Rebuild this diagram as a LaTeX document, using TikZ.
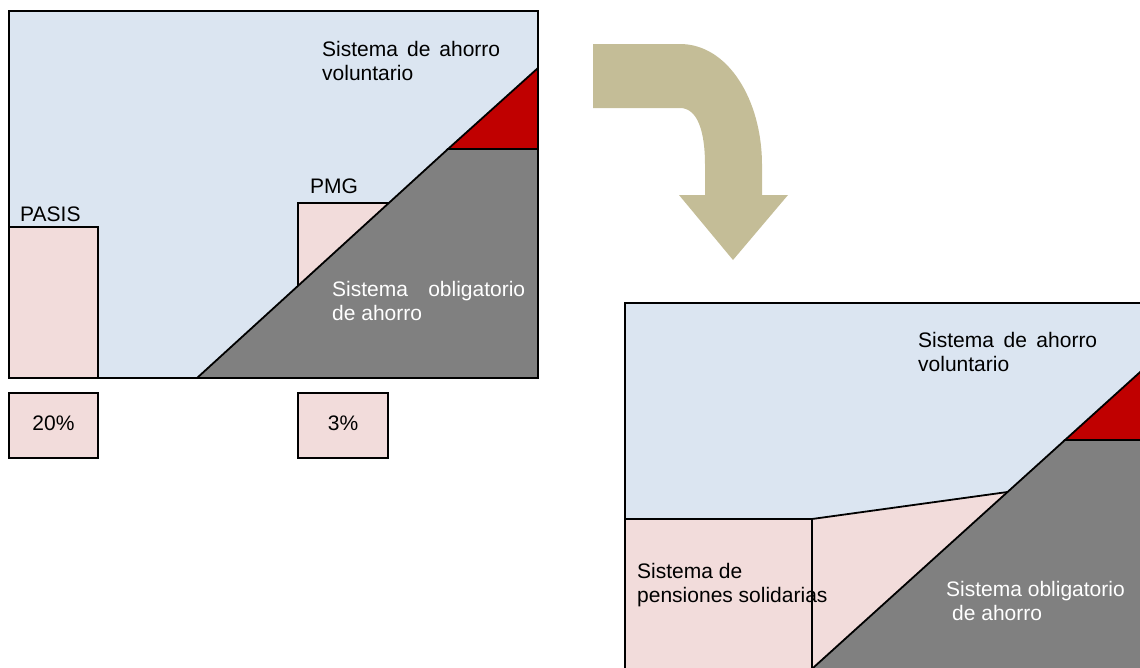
\documentclass[tikz,border=0pt]{standalone}
\usepackage{fontspec}
\setmainfont{Liberation Sans}
\definecolor{bluefill}{HTML}{DBE5F1}
\definecolor{pinkfill}{HTML}{F2DCDB}
\definecolor{grayfill}{HTML}{808080}
\definecolor{redfill}{HTML}{C00000}
\definecolor{tanfill}{HTML}{C4BD97}
\begin{document}
\begin{tikzpicture}[x=1pt,y=-1pt,
  edge/.style={draw=black,line width=1.8pt,line join=miter},
  bluereg/.style={edge,fill=bluefill},
  pinkreg/.style={edge,fill=pinkfill},
  grayreg/.style={edge,fill=grayfill},
  redreg/.style={edge,fill=redfill},
  lbl/.style={anchor=base west,inner sep=0pt,font=\fontsize{21}{24}\selectfont,text=black},
  wlbl/.style={lbl,text=white},
  clbl/.style={anchor=base,inner sep=0pt,font=\fontsize{21}{24}\selectfont,text=black}]
\useasboundingbox (0,0) rectangle (1140,667);
\clip (0,0) rectangle (1140,667);
% ---------- left panel ----------
\filldraw[bluereg] (9,11) rectangle (538,378);
\filldraw[pinkreg] (9,227) rectangle (98,378);
\filldraw[pinkreg] (298,203) rectangle (390,300);
\filldraw[grayreg] (197,378) -- (448,149) -- (538,149) -- (538,378) -- cycle;
\filldraw[redreg] (448,149) -- (538,149) -- (538,68) -- cycle;
\draw[edge] (9,11) rectangle (538,378);
\filldraw[pinkreg] (9,393) rectangle (98,458);
\filldraw[pinkreg] (298,393) rectangle (388,458);
\node[lbl] (lvol1) at (322,56) {\makebox[178pt][s]{Sistema de ahorro}};
\node[lbl] (lvol2) at (322,80) {voluntario};
\node[lbl] (pmg) at (310,193) {PMG};
\node[lbl] (pasis) at (20,221) {PASIS};
\node[clbl] (p20) at (53.5,430) {20\%};
\node[clbl] (p3) at (343,430) {3\%};
\node[wlbl] (lobl1) at (332,296) {\makebox[193pt][s]{Sistema obligatorio}};
\node[wlbl] (lobl2) at (332,320) {de ahorro};
% ---------- arrow ----------
\fill[tanfill] (593,44) -- (680,44)
  .. controls (728,44) and (762,100) .. (762,165)
  -- (762,195) -- (788,195) -- (733,260) -- (679,195) -- (705,195) -- (705,165)
  .. controls (705,130) and (697,108) .. (680,108)
  -- (593,108) -- cycle;
% ---------- right panel ----------
\filldraw[bluereg] (625,303) rectangle (1170,700);
\fill[pinkfill] (625,700) -- (625,519) -- (812,519) -- (1007.5,492) -- (788.6,690) -- (788.6,700) -- cycle;
\draw[edge] (625,519) -- (812,519) -- (1007.5,492);
\draw[edge] (812,519) -- (812,700);
\filldraw[grayreg] (788.6,690) -- (1065,440) -- (1170,440) -- (1170,700) -- (788.6,700) -- cycle;
\filldraw[redreg] (1065,440) -- (1170,440) -- (1170,345) -- cycle;
\draw[edge] (625,700) -- (625,303) -- (1170,303);
\node[lbl] (rvol1) at (918,347) {\makebox[179pt][s]{Sistema de ahorro}};
\node[lbl] (rvol2) at (918,371) {voluntario};
\node[lbl] (sps1) at (637,578) {Sistema de};
\node[lbl] (sps2) at (637,602) {pensiones solidarias};
\node[wlbl] (robl1) at (946,596) {Sistema obligatorio};
\node[wlbl] (robl2) at (952,620) {de ahorro};
\end{tikzpicture}
\end{document}
